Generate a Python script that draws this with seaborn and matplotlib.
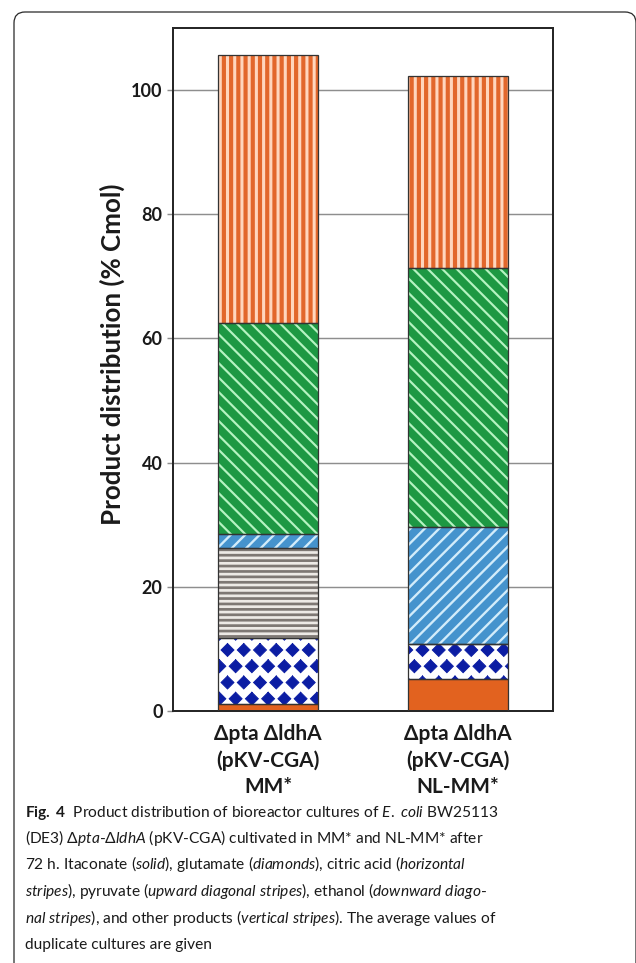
import numpy as np
import seaborn as sns
import matplotlib.pyplot as plt
import matplotlib.hatch as mhatch
from matplotlib.path import Path
from matplotlib.patches import Rectangle, FancyBboxPatch
from matplotlib.transforms import IdentityTransform

# ---- data (% Cmol) ----
categories = ["Δpta ΔldhA\n(pKV-CGA)\nMM*", "Δpta ΔldhA\n(pKV-CGA)\nNL-MM*"]
itaconate = [1.1, 5.2]
glutamate = [10.6, 5.6]
citric_acid = [14.5, 0.0]
pyruvate = [2.3, 18.8]
ethanol = [34.0, 41.7]
other_products = [43.2, 31.0]

y_ticks = [0, 20, 40, 60, 80, 100]
y_label = "Product distribution (% Cmol)"


def it(s):
    return " ".join(r"$\mathit{%s}$" % w for w in s.split())


caption_lines = [
    r"$\mathbf{Fig.}$ $\mathbf{4}$  Product distribution of bioreactor cultures of " + it("E. coli") + " BW25113",
    "(DE3) Δ" + it("pta") + "-Δ" + it("ldhA") + " (pKV-CGA) cultivated in MM* and NL-MM* after",
    "72 h. Itaconate (" + it("solid") + "), glutamate (" + it("diamonds") + "), citric acid (" + it("horizontal"),
    it("stripes") + "), pyruvate (" + it("upward diagonal stripes") + "), ethanol (" + it("downward diago") + "-",
    it("nal stripes") + "), and other products (" + it("vertical stripes") + "). The average values of",
    "duplicate cultures are given",
]


# diamond hatch: swap the star pattern for filled diamonds
class DiamondHatch(mhatch.Shapes):
    size = 0.40
    filled = True

    def __init__(self, hatch, density):
        self.num_rows = hatch.count('*') * 8
        path = Path.unit_regular_polygon(4)
        self.shape_vertices = path.vertices
        self.shape_codes = np.full(len(path.vertices), Path.LINETO, dtype=Path.code_type)
        self.shape_codes[0] = Path.MOVETO
        super().__init__(hatch, density)


mhatch._hatch_types = [DiamondHatch if t is mhatch.Stars else t for t in mhatch._hatch_types]

sns.set_style("white")
plt.rcParams['font.family'] = ['Lato', 'DejaVu Sans']
plt.rcParams['mathtext.fontset'] = 'custom'
plt.rcParams['mathtext.rm'] = 'Lato'
plt.rcParams['mathtext.it'] = 'Lato:italic'
plt.rcParams['mathtext.bf'] = 'Lato:bold'
plt.rcParams['hatch.linewidth'] = 1.5

DPI = 130
fig = plt.figure(figsize=(636 / DPI, 963 / DPI), dpi=DPI)
ax = fig.add_axes([173 / 636, 1 - 711 / 963, 380 / 636, 683 / 963])

layers = [
    (itaconate, '#E2621F', None, '#E2621F', 1.0),
    (glutamate, '#FFFFFF', '*', '#0B1DA3', 0.5),
    (citric_acid, '#EDEAE6', '----', '#7E7874', 1.5),
    (pyruvate, '#4593CD', '///', '#D2ECFA', 1.3),
    (ethanol, '#1D9843', '\\\\\\', '#B5F3C1', 1.2),
    (other_products, '#E2672C', '|||', '#FFD6BE', 1.7),
]

bottom = np.zeros(len(categories))
seg_patches = []
for vals, face, hatch, hcol, hlw in layers:
    n0 = len(ax.patches)
    sns.barplot(x=categories, y=vals, bottom=bottom, ax=ax, width=0.53,
                saturation=1, color=face, linewidth=0, errorbar=None)
    for p in ax.patches[n0:]:
        p.set_facecolor(face)
        p.set_edgecolor(hcol)
        p.set_linewidth(0)
        p.set_hatch(hatch)
        if hasattr(p, 'set_hatch_linewidth'):
            p.set_hatch_linewidth(hlw)
        p.set_zorder(2)
        seg_patches.append(p)
    bottom = bottom + np.array(vals)

for p in seg_patches:
    ax.add_patch(Rectangle(p.get_xy(), p.get_width(), p.get_height(), fill=False,
                           edgecolor='#333333', linewidth=0.7, zorder=3))

ax.set_xlim(-0.5, 1.5)
ax.set_ylim(0, 110)
ax.set_yticks(y_ticks)
ax.set_axisbelow(True)
ax.yaxis.grid(True, color='#8e8e8e', linewidth=0.8)
ax.xaxis.grid(False)
for s in ax.spines.values():
    s.set_visible(True)
    s.set_color('#262626')
    s.set_linewidth(1.1)

ax.set_xticks(range(len(categories)))
ax.set_xticklabels(categories, fontsize=11.6, fontweight='bold', color='#1a1a1a', linespacing=1.38)
ax.tick_params(axis='x', length=0, pad=7)
ax.tick_params(axis='y', left=True, length=3.3, width=0.8, color='#8e8e8e', pad=2.5,
               labelsize=10, labelcolor='#1a1a1a')
for lab in ax.get_yticklabels():
    lab.set_fontweight('bold')

ax.set_ylabel(y_label, fontsize=14.3, fontweight='bold', color='#1a1a1a')
ax.yaxis.set_label_coords(-0.125, 0.522)
ax.set_xlabel("")

# outer frame
fig.patches.append(FancyBboxPatch((14, -30), 622, 963 - 12 + 30, boxstyle="round,pad=0,rounding_size=11",
                                  transform=IdentityTransform(), fill=False,
                                  edgecolor='#2a2a2a', linewidth=0.7, figure=fig))

baselines = [816.5, 843, 869.5, 896, 922.5, 949]
for line, yb in zip(caption_lines, baselines):
    fig.text(25 / 636, 1 - yb / 963, line, fontsize=8.6, color='#1a1a1a',
             ha='left', va='baseline', family='Lato')

fig.savefig("out.png", dpi=DPI, facecolor='white')
